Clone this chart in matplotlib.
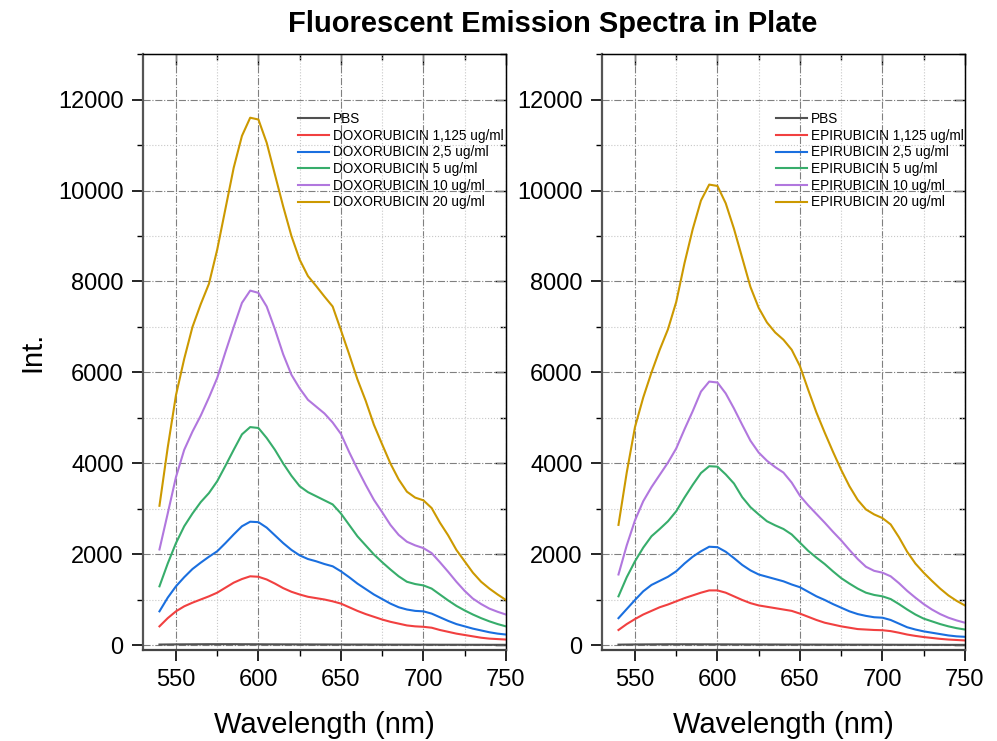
import numpy as np
import matplotlib
matplotlib.use("Agg")
import matplotlib.pyplot as plt
from matplotlib.ticker import MultipleLocator

plt.rcParams['font.family'] = ['Liberation Sans', 'DejaVu Sans']

# Wavelength (nm), 5 nm steps from 540 to 750
wavelength = np.arange(540, 755, 5)

# ---- Doxorubicin plate ----
dox_pbs = [20, 22, 24, 25, 26, 27, 28, 28, 28, 28, 27, 27, 26, 25, 25, 24, 24, 23, 23, 22, 22, 21,
           21, 20, 20, 20, 19, 19, 18, 18, 18, 17, 17, 17, 16, 16, 16, 15, 15, 15, 14, 14, 14]
dox_1125 = [420, 600, 750, 860, 940, 1010, 1080, 1160, 1270, 1380, 1460, 1520, 1510, 1450, 1360, 1260,
            1180, 1120, 1070, 1040, 1010, 970, 920, 840, 760, 690, 630, 570, 520, 480, 440, 420, 410,
            390, 340, 300, 260, 230, 200, 170, 150, 140, 130]
dox_25 = [750, 1050, 1300, 1500, 1680, 1820, 1950, 2070, 2250, 2440, 2620, 2720, 2710, 2590, 2420, 2250,
          2100, 1980, 1900, 1850, 1790, 1740, 1630, 1500, 1360, 1240, 1120, 1020, 920, 840, 790, 760,
          750, 700, 620, 540, 470, 420, 370, 330, 290, 260, 240]
dox_5 = [1300, 1800, 2250, 2620, 2900, 3150, 3350, 3610, 3950, 4300, 4640, 4800, 4780, 4560, 4300, 4000,
         3730, 3500, 3370, 3280, 3190, 3100, 2900, 2650, 2400, 2200, 2000, 1830, 1670, 1520, 1400, 1350,
         1320, 1250, 1120, 990, 870, 770, 680, 600, 530, 470, 420]
dox_10 = [2110, 2900, 3700, 4300, 4700, 5050, 5450, 5880, 6450, 7000, 7530, 7800, 7750, 7450, 6950, 6400,
          5950, 5650, 5400, 5250, 5100, 4900, 4650, 4250, 3880, 3530, 3200, 2930, 2650, 2430, 2280, 2200,
          2140, 2030, 1830, 1620, 1400, 1200, 1030, 910, 810, 740, 680]
dox_20 = [3070, 4350, 5500, 6300, 7000, 7500, 7950, 8700, 9600, 10500, 11200, 11600, 11560, 11050, 10350,
          9650, 9000, 8480, 8120, 7900, 7670, 7450, 6930, 6400, 5850, 5380, 4850, 4420, 4000, 3650, 3380,
          3250, 3190, 3020, 2700, 2420, 2100, 1850, 1600, 1400, 1250, 1120, 1000]

# ---- Epirubicin plate ----
epi_pbs = [18, 20, 22, 23, 24, 25, 26, 26, 26, 26, 25, 25, 24, 24, 23, 23, 22, 22, 21, 21, 20, 20,
           20, 19, 19, 18, 18, 18, 17, 17, 17, 16, 16, 16, 15, 15, 15, 14, 14, 14, 13, 13, 13]
epi_1125 = [340, 470, 580, 680, 760, 840, 900, 970, 1040, 1100, 1160, 1210, 1210, 1160, 1080, 1000,
            930, 880, 850, 820, 790, 760, 700, 630, 560, 500, 460, 420, 390, 360, 350, 340, 335, 315,
            280, 240, 210, 185, 165, 145, 130, 120, 110]
epi_25 = [600, 800, 1000, 1190, 1330, 1420, 1510, 1630, 1800, 1950, 2070, 2170, 2160, 2060, 1920, 1770,
          1650, 1560, 1510, 1460, 1410, 1340, 1280, 1180, 1080, 1000, 910, 830, 750, 690, 650, 620, 610,
          560, 480, 400, 350, 310, 280, 250, 220, 200, 190]
epi_5 = [1080, 1500, 1850, 2150, 2400, 2560, 2730, 2950, 3250, 3530, 3790, 3940, 3930, 3760, 3560, 3260,
         3040, 2880, 2730, 2640, 2560, 2440, 2260, 2080, 1930, 1790, 1630, 1480, 1360, 1250, 1160, 1110,
         1080, 1020, 910, 790, 680, 590, 530, 470, 420, 380, 350]
epi_10 = [1560, 2200, 2750, 3170, 3480, 3750, 4020, 4330, 4750, 5150, 5580, 5800, 5780, 5540, 5210, 4850,
          4500, 4240, 4060, 3920, 3800, 3580, 3290, 3080, 2890, 2700, 2500, 2310, 2100, 1900, 1730, 1640,
          1600, 1520, 1370, 1200, 1050, 910, 790, 690, 610, 550, 500]
epi_20 = [2650, 3800, 4800, 5450, 6000, 6500, 6950, 7550, 8400, 9150, 9780, 10130, 10100, 9720, 9160,
          8520, 7880, 7420, 7100, 6880, 6720, 6500, 6140, 5620, 5120, 4680, 4260, 3860, 3500, 3200, 2990,
          2880, 2800, 2660, 2380, 2060, 1800, 1600, 1420, 1250, 1100, 980, 880]

concentrations = ["1,125 ug/ml", "2,5 ug/ml", "5 ug/ml", "10 ug/ml", "20 ug/ml"]
colors = ['#515151', '#F14040', '#1A6FDF', '#37AD6B', '#B177DE', '#CC9900']

fig = plt.figure(figsize=(9.97, 7.41), dpi=100)
ax1 = fig.add_axes([0.1434, 0.1228, 0.364, 0.8043])
ax2 = fig.add_axes([0.6038, 0.1228, 0.364, 0.8043])

paineis = [
    (ax1, "DOXORUBICIN", [dox_pbs, dox_1125, dox_25, dox_5, dox_10, dox_20], (0.427, 0.903)),
    (ax2, "EPIRUBICIN", [epi_pbs, epi_1125, epi_25, epi_5, epi_10, epi_20], (0.479, 0.903)),
]

for ax, nome, series, pos in paineis:
    labels = ["PBS"] + [nome + " " + c for c in concentrations]
    for s, lab, cor in zip(series, labels, colors):
        ax.plot(wavelength, s, color=cor, lw=1.5, label=lab)

    ax.set_xlim(530, 750)
    ax.set_ylim(-100, 13000)
    ax.xaxis.set_major_locator(MultipleLocator(50))
    ax.xaxis.set_minor_locator(MultipleLocator(25))
    ax.yaxis.set_major_locator(MultipleLocator(2000))
    ax.yaxis.set_minor_locator(MultipleLocator(1000))

    # grade estilo Origin
    ax.grid(which='major', color='#808080', ls='-.', lw=0.8)
    ax.grid(which='minor', color='#c8c8c8', ls=':', lw=0.8)
    ax.set_axisbelow(True)

    ax.tick_params(which='major', direction='out', length=8, width=1.2, labelsize=17, pad=6)
    ax.tick_params(which='minor', direction='out', length=4.5, width=1)
    ax.spines['left'].set_linewidth(1.6)
    ax.spines['left'].set_color('#555555')
    ax.spines['bottom'].set_linewidth(1.6)
    ax.spines['bottom'].set_color('#444444')
    ax.spines['top'].set_linewidth(1)
    ax.spines['right'].set_linewidth(1)

    # ticks espelhados para dentro (topo e direita)
    topo = ax.secondary_xaxis('top')
    topo.xaxis.set_major_locator(MultipleLocator(50))
    topo.xaxis.set_minor_locator(MultipleLocator(25))
    topo.tick_params(which='major', direction='in', length=8, width=1, labeltop=False)
    topo.tick_params(which='minor', direction='in', length=4.5, width=1)
    dir_ = ax.secondary_yaxis('right')
    dir_.yaxis.set_major_locator(MultipleLocator(2000))
    dir_.yaxis.set_minor_locator(MultipleLocator(1000))
    dir_.tick_params(which='major', direction='in', length=8, width=1, labelright=False)
    dir_.tick_params(which='minor', direction='in', length=4.5, width=1)

    ax.set_xlabel("Wavelength (nm)", fontsize=21, labelpad=14)
    ax.legend(loc='upper left', bbox_to_anchor=pos, frameon=False, fontsize=9.8,
              handlelength=2.3, handletextpad=0.3, labelspacing=0.2, borderpad=0, borderaxespad=0)

ax1.set_ylabel("Int.", fontsize=21, labelpad=8)

fig.suptitle("Fluorescent Emission Spectra in Plate", fontsize=21, fontweight='bold',
             x=0.554, y=0.986)

plt.savefig("out.png", dpi=100)
